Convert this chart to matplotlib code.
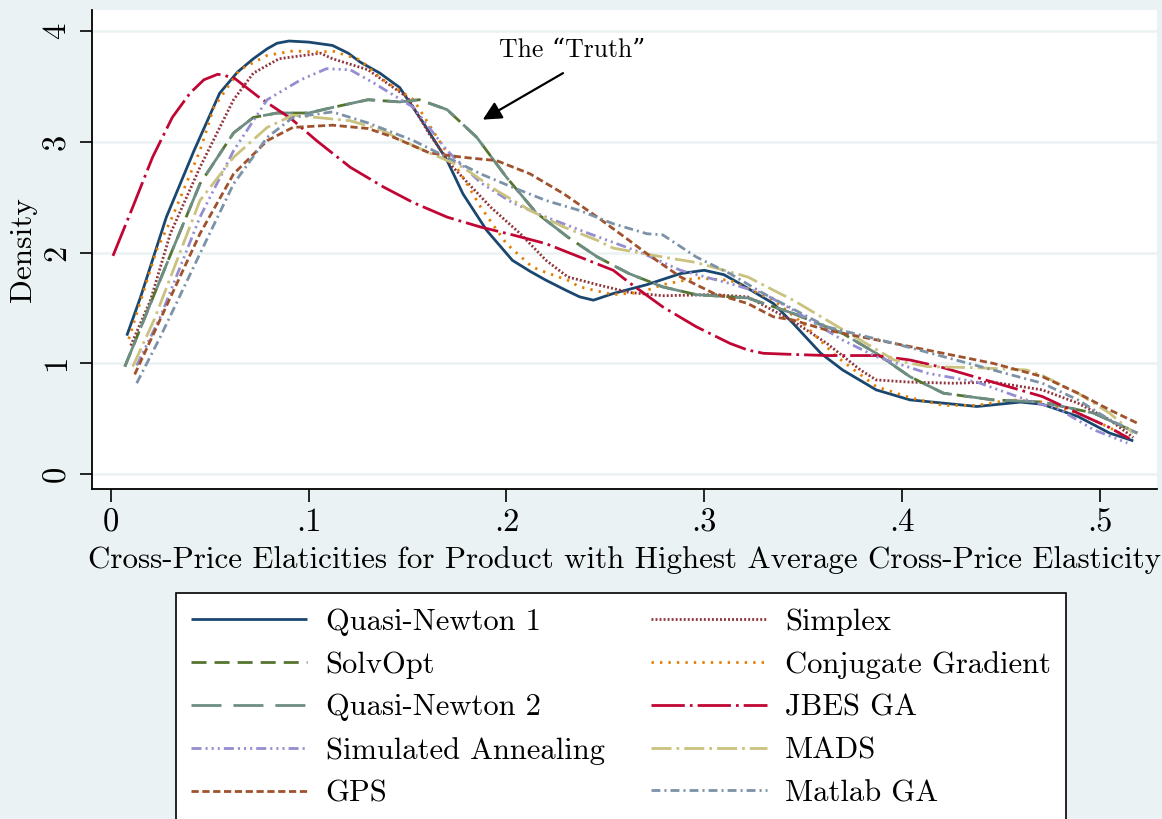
import matplotlib
matplotlib.use("Agg")
import matplotlib.pyplot as plt

# ---- data: kernel density estimates of the cross-price elasticity ----
qn1_x = [0.008, 0.015, 0.028, 0.042, 0.055, 0.064, 0.072, 0.079, 0.084, 0.090, 0.100, 0.112, 0.120, 0.126,
         0.136, 0.146, 0.158, 0.170, 0.178, 0.190, 0.203, 0.212, 0.220, 0.230, 0.237, 0.244, 0.254, 0.271,
         0.288, 0.300, 0.310, 0.318, 0.335, 0.345, 0.359, 0.370, 0.387, 0.404, 0.421, 0.438, 0.460, 0.471,
         0.489, 0.505, 0.517]
qn1_y = [1.25, 1.60, 2.32, 2.92, 3.44, 3.63, 3.75, 3.84, 3.89, 3.91, 3.90, 3.87, 3.80, 3.72,
         3.62, 3.49, 3.17, 2.83, 2.53, 2.20, 1.93, 1.83, 1.75, 1.66, 1.60, 1.57, 1.63, 1.71,
         1.81, 1.84, 1.80, 1.72, 1.54, 1.36, 1.09, 0.94, 0.76, 0.67, 0.64, 0.61, 0.65, 0.63,
         0.52, 0.37, 0.30]

simplex_x = [0.010, 0.020, 0.030, 0.045, 0.062, 0.072, 0.085, 0.106, 0.112, 0.121, 0.130, 0.150, 0.161, 0.173,
             0.192, 0.207, 0.220, 0.231, 0.246, 0.262, 0.279, 0.305, 0.322, 0.345, 0.362, 0.379, 0.387, 0.404,
             0.426, 0.446, 0.471, 0.489, 0.505, 0.517]
simplex_y = [1.16, 1.57, 2.17, 2.77, 3.38, 3.62, 3.75, 3.80, 3.75, 3.70, 3.65, 3.40, 3.07, 2.77,
             2.41, 2.17, 1.93, 1.78, 1.71, 1.64, 1.61, 1.62, 1.60, 1.38, 1.18, 0.94, 0.85, 0.83,
             0.82, 0.83, 0.76, 0.64, 0.49, 0.33]

solvopt_x = [0.007, 0.020, 0.031, 0.045, 0.062, 0.072, 0.084, 0.100, 0.112, 0.130, 0.146, 0.156, 0.170, 0.185,
             0.200, 0.215, 0.231, 0.246, 0.262, 0.279, 0.296, 0.322, 0.345, 0.370, 0.387, 0.404, 0.421, 0.446,
             0.471, 0.497, 0.519]
solvopt_y = [0.97, 1.54, 2.02, 2.62, 3.08, 3.22, 3.26, 3.26, 3.31, 3.38, 3.36, 3.38, 3.29, 3.04,
             2.68, 2.36, 2.14, 1.96, 1.81, 1.69, 1.62, 1.59, 1.45, 1.27, 1.09, 0.88, 0.73, 0.67,
             0.65, 0.55, 0.37]

cg_x = [0.009, 0.023, 0.031, 0.045, 0.052, 0.065, 0.079, 0.092, 0.106, 0.112, 0.126, 0.136, 0.153, 0.166,
        0.178, 0.187, 0.200, 0.213, 0.220, 0.231, 0.237, 0.254, 0.268, 0.279, 0.296, 0.313, 0.335, 0.350,
        0.367, 0.387, 0.404, 0.421, 0.438, 0.455, 0.471, 0.489, 0.505, 0.515]
cg_y = [1.22, 2.02, 2.32, 2.92, 3.31, 3.65, 3.78, 3.82, 3.81, 3.82, 3.74, 3.58, 3.38, 3.01,
        2.68, 2.41, 2.08, 1.87, 1.82, 1.75, 1.69, 1.62, 1.64, 1.71, 1.77, 1.75, 1.57, 1.36,
        1.06, 0.79, 0.69, 0.62, 0.62, 0.67, 0.65, 0.55, 0.42, 0.32]

qn2_x = [0.007, 0.020, 0.031, 0.045, 0.062, 0.072, 0.084, 0.100, 0.112, 0.130, 0.146, 0.156, 0.170, 0.185,
         0.200, 0.215, 0.231, 0.246, 0.262, 0.279, 0.296, 0.322, 0.345, 0.370, 0.387, 0.404, 0.421, 0.446,
         0.471, 0.497, 0.519]
qn2_y = [0.97, 1.54, 2.02, 2.62, 3.08, 3.22, 3.26, 3.26, 3.31, 3.38, 3.36, 3.38, 3.29, 3.04,
         2.68, 2.36, 2.14, 1.96, 1.81, 1.69, 1.62, 1.59, 1.45, 1.27, 1.09, 0.88, 0.73, 0.67,
         0.65, 0.55, 0.37]

jbes_x = [0.001, 0.011, 0.021, 0.031, 0.040, 0.047, 0.054, 0.062, 0.075, 0.091, 0.104, 0.121, 0.138, 0.153,
          0.170, 0.187, 0.203, 0.220, 0.237, 0.254, 0.262, 0.279, 0.296, 0.313, 0.322, 0.330, 0.345, 0.362,
          0.387, 0.404, 0.421, 0.446, 0.471, 0.489, 0.505, 0.515]
jbes_y = [1.97, 2.41, 2.86, 3.22, 3.44, 3.56, 3.61, 3.58, 3.40, 3.21, 3.01, 2.77, 2.59, 2.45,
          2.32, 2.23, 2.16, 2.08, 1.96, 1.84, 1.73, 1.51, 1.33, 1.18, 1.12, 1.09, 1.08, 1.07,
          1.07, 1.03, 0.96, 0.83, 0.70, 0.55, 0.42, 0.32]

sa_x = [0.013, 0.025, 0.045, 0.062, 0.079, 0.096, 0.109, 0.121, 0.133, 0.153, 0.170, 0.187, 0.203, 0.220,
        0.242, 0.268, 0.288, 0.313, 0.330, 0.345, 0.370, 0.387, 0.413, 0.438, 0.463, 0.480, 0.497, 0.514]
sa_y = [0.98, 1.42, 2.32, 2.92, 3.38, 3.56, 3.66, 3.65, 3.53, 3.31, 2.92, 2.63, 2.45, 2.32,
        2.17, 2.00, 1.84, 1.72, 1.63, 1.48, 1.21, 1.06, 0.91, 0.83, 0.67, 0.58, 0.40, 0.28]

mads_x = [0.011, 0.022, 0.045, 0.062, 0.079, 0.092, 0.104, 0.121, 0.138, 0.145, 0.161, 0.178, 0.195, 0.212,
          0.229, 0.246, 0.254, 0.279, 0.296, 0.322, 0.335, 0.345, 0.362, 0.379, 0.396, 0.413, 0.438, 0.463,
          0.471, 0.489, 0.505, 0.517]
mads_y = [0.97, 1.40, 2.47, 2.86, 3.13, 3.24, 3.22, 3.19, 3.10, 3.03, 2.90, 2.77, 2.56, 2.38,
          2.23, 2.11, 2.04, 1.96, 1.91, 1.78, 1.66, 1.57, 1.39, 1.21, 1.03, 0.97, 0.96, 0.94,
          0.89, 0.73, 0.55, 0.37]

gps_x = [0.012, 0.025, 0.045, 0.062, 0.079, 0.092, 0.112, 0.130, 0.143, 0.161, 0.178, 0.195, 0.212, 0.229,
         0.246, 0.262, 0.271, 0.288, 0.305, 0.322, 0.335, 0.345, 0.362, 0.396, 0.421, 0.446, 0.471, 0.489,
         0.505, 0.519]
gps_y = [0.90, 1.40, 2.17, 2.71, 3.01, 3.13, 3.15, 3.12, 3.04, 2.90, 2.86, 2.83, 2.71, 2.53,
         2.32, 2.11, 1.99, 1.78, 1.63, 1.54, 1.42, 1.39, 1.30, 1.18, 1.09, 1.00, 0.88, 0.73,
         0.58, 0.46]

matlab_x = [0.013, 0.025, 0.045, 0.062, 0.079, 0.092, 0.112, 0.130, 0.143, 0.153, 0.170, 0.187, 0.203, 0.220,
            0.237, 0.254, 0.271, 0.279, 0.296, 0.313, 0.330, 0.362, 0.396, 0.421, 0.446, 0.471, 0.489, 0.505,
            0.519]
matlab_y = [0.82, 1.24, 1.99, 2.62, 3.04, 3.22, 3.27, 3.17, 3.08, 3.01, 2.86, 2.71, 2.59, 2.47,
            2.38, 2.26, 2.17, 2.16, 1.96, 1.81, 1.63, 1.33, 1.18, 1.06, 0.94, 0.82, 0.67, 0.49,
            0.37]

series_names = ["Quasi-Newton 1", "Simplex", "SolvOpt", "Conjugate Gradient", "Quasi-Newton 2",
                "JBES GA", "Simulated Annealing", "MADS", "GPS", "Matlab GA"]
x_ticks = [0, 0.1, 0.2, 0.3, 0.4, 0.5]
x_tick_labels = ["0", ".1", ".2", ".3", ".4", ".5"]
y_ticks = [0, 1, 2, 3, 4]
y_tick_labels = ["0", "1", "2", "3", "4"]

# ---- styling (Stata s2color look) ----
BG = "#EAF2F3"
FONT = ["cmr10", "DejaVu Serif"]
plt.rcParams["font.family"] = FONT
plt.rcParams["axes.formatter.use_mathtext"] = True

LW = 2.0
styles = [
    dict(color="#1A476F", ls="-"),
    dict(color="#90353B", ls=(0, (0.7, 0.75))),
    dict(color="#55752F", ls=(0, (5.4, 2.9))),
    dict(color="#E37E00", ls=(0, (0.85, 2.2))),
    dict(color="#6E8E84", ls=(0, (10.8, 4.3))),
    dict(color="#C10534", ls=(0, (12.0, 1.8, 1.0, 1.8))),
    dict(color="#938DD2", ls=(0, (3.6, 1.45, 0.75, 1.45, 0.75, 1.45, 0.75, 1.45))),
    dict(color="#CAC27E", ls=(0, (7.2, 1.8, 1.0, 1.8))),
    dict(color="#A0522D", ls=(0, (2.6, 1.3))),
    dict(color="#7B92A8", ls=(0, (3.2, 1.45, 0.75, 1.45))),
]

data = [(qn1_x, qn1_y), (simplex_x, simplex_y), (solvopt_x, solvopt_y), (cg_x, cg_y),
        (qn2_x, qn2_y), (jbes_x, jbes_y), (sa_x, sa_y), (mads_x, mads_y),
        (gps_x, gps_y), (matlab_x, matlab_y)]

W, H = 1162, 819
fig = plt.figure(figsize=(W / 100, H / 100), dpi=100, facecolor=BG)
ax = fig.add_axes([92 / W, 1 - 489 / H, (1157 - 92) / W, (489 - 10) / H])
ax.set_facecolor("white")

lines = []
for (xs, ys), st, name in zip(data, styles, series_names):
    ln, = ax.plot(xs, ys, color=st["color"], linestyle=st["ls"], lw=LW,
                  dash_capstyle="butt", solid_capstyle="butt", solid_joinstyle="round",
                  dash_joinstyle="round", label=name)
    lines.append(ln)

ax.set_xlim(-0.0096, 0.529)
ax.set_ylim(-0.135, 4.19)

for yv in y_ticks:
    ax.axhline(yv, color=BG, lw=1.8, zorder=0.5)

for side in ("top", "right"):
    ax.spines[side].set_visible(False)
for side in ("left", "bottom"):
    ax.spines[side].set_linewidth(1.3)
    ax.spines[side].set_color("black")

ax.set_xticks(x_ticks)
ax.set_xticklabels(x_tick_labels, fontsize=23.5)
ax.set_yticks(y_ticks)
ax.set_yticklabels(y_tick_labels, fontsize=23.5, rotation=90, va="center")
ax.tick_params(axis="both", length=9, width=1.2, color="black")
ax.tick_params(axis="x", pad=5)
ax.tick_params(axis="y", pad=6)

ax.set_xlabel("Cross-Price Elaticities for Product with Highest Average Cross-Price Elasticity",
              fontsize=22.3, labelpad=6)
ax.set_ylabel("Density", fontsize=22.5, labelpad=4)

ax.text(0.233, 3.83, "The \u201cTruth\u201d", fontsize=18.5, ha="center", va="center",
        family=FONT)
ax.annotate("", xy=(0.188, 3.20), xytext=(0.2286, 3.62),
            arrowprops=dict(arrowstyle="-|>", color="black", lw=1.6,
                            mutation_scale=28, shrinkA=0, shrinkB=0))

# legend: two columns, filled row by row
order = [0, 2, 4, 6, 8, 1, 3, 5, 7, 9]
leg = fig.legend([lines[i] for i in order], [series_names[i] for i in order],
                 ncol=2, loc="upper left", bbox_to_anchor=(176 / W, 1 - 593 / H),
                 borderaxespad=0, fontsize=22, frameon=True, fancybox=False, edgecolor="black",
                 facecolor="white", framealpha=1, handlelength=3.8, handletextpad=0.6,
                 columnspacing=1.5, labelspacing=0.5, borderpad=0.5)
leg.get_frame().set_linewidth(1.2)

fig.savefig("out.png", dpi=100, facecolor=BG)
